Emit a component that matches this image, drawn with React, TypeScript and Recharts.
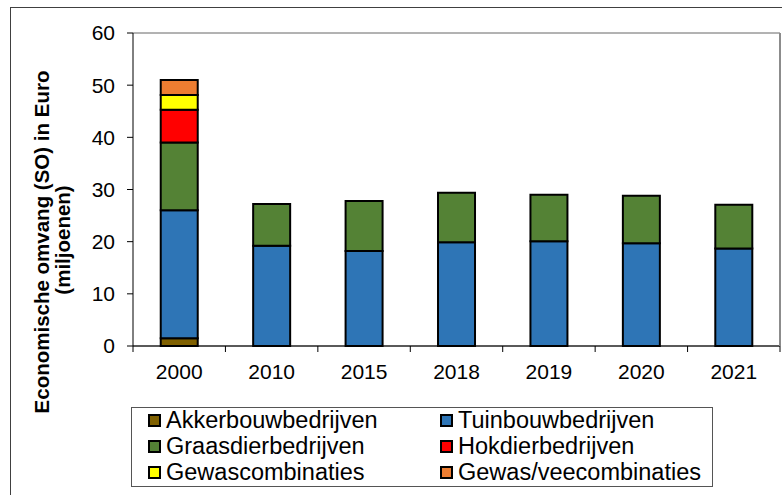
import { BarChart, Bar, XAxis, YAxis, CartesianGrid, Legend } from 'recharts';

const years = ['2000', '2010', '2015', '2018', '2019', '2020', '2021'];
const akkerbouw = [1.5, 0, 0, 0, 0, 0, 0];
const tuinbouw = [24.5, 19.2, 18.2, 19.9, 20.1, 19.7, 18.7];
const graasdier = [13.0, 8.0, 9.6, 9.5, 8.9, 9.1, 8.4];
const hokdier = [6.3, 0, 0, 0, 0, 0, 0];
const gewascombinaties = [2.8, 0, 0, 0, 0, 0, 0];
const gewasVee = [2.9, 0, 0, 0, 0, 0, 0];
const yTicks = [0, 10, 20, 30, 40, 50, 60];

const series = [
  { key: 'akker', name: 'Akkerbouwbedrijven', color: '#7f6000', values: akkerbouw },
  { key: 'tuin', name: 'Tuinbouwbedrijven', color: '#2e75b6', values: tuinbouw },
  { key: 'graas', name: 'Graasdierbedrijven', color: '#548235', values: graasdier },
  { key: 'hok', name: 'Hokdierbedrijven', color: '#ff0000', values: hokdier },
  { key: 'gewas', name: 'Gewascombinaties', color: '#ffff00', values: gewascombinaties },
  { key: 'gewasvee', name: 'Gewas/veecombinaties', color: '#ed7d31', values: gewasVee },
];

const data = years.map((year, i) => {
  const row: Record<string, string | number> = { year };
  series.forEach((s) => {
    row[s.key] = s.values[i];
  });
  return row;
});

const FONT = '"Liberation Sans", Arial, sans-serif';

// excel style: tick marks sit between the categories, label in the middle
function YearTick(props: any) {
  const { x, y, payload, index, width, visibleTicksCount } = props;
  const band = width / visibleTicksCount;
  const top = y - 18;
  return (
    <g>
      <line x1={x - band / 2} x2={x - band / 2} y1={top} y2={top + 6} stroke="#000" />
      {index === visibleTicksCount - 1 && (
        <line x1={x + band / 2} x2={x + band / 2} y1={top} y2={top + 6} stroke="#000" />
      )}
      <text x={x} y={y} dy="0.71em" textAnchor="middle" fill="#000" fontSize={21} fontFamily={FONT}>
        {payload.value}
      </text>
    </g>
  );
}

function AxisTitle() {
  return (
    <g fontFamily={FONT} fontSize={20.5} fontWeight="bold" fill="#000">
      <text x={49} y={242} transform="rotate(-90 49 242)" textAnchor="middle">
        Economische omvang (SO) in Euro
      </text>
      <text x={70} y={240} transform="rotate(-90 70 240)" textAnchor="middle">
        (miljoenen)
      </text>
    </g>
  );
}

function LegendBox() {
  const rowTops = [-1, 25, 51];
  const cols = [16, 308];
  return (
    <div style={{ position: 'relative', width: '100%', height: '100%', fontFamily: FONT, fontSize: 23.5, color: '#000' }}>
      {series.map((s, i) => (
        <div
          key={s.key}
          style={{
            position: 'absolute',
            left: cols[i % 2],
            top: rowTops[Math.floor(i / 2)],
            height: 26,
            lineHeight: '26px',
            display: 'flex',
            alignItems: 'center',
            whiteSpace: 'nowrap',
          }}
        >
          <span
            style={{
              display: 'inline-block',
              width: 9,
              height: 9,
              background: s.color,
              border: '2px solid #000',
              marginRight: 5,
            }}
          />
          {s.name}
        </div>
      ))}
    </div>
  );
}

export default function App() {
  return (
    <div style={{ position: 'absolute', left: 0, top: 0, width: 782, height: 495, overflow: 'hidden', background: '#fff' }}>
      <div style={{ position: 'absolute', left: 10, top: 7, width: 820, height: 520, border: '1px solid #404040' }} />
      <div style={{ position: 'absolute', left: 0, top: 0 }}>
        <BarChart
          width={782}
          height={495}
          data={data}
          margin={{ top: 33, right: 0, left: 0, bottom: 109 }}
          barCategoryGap="30%"
        >
          <CartesianGrid vertical={false} stroke="#666" />
          <XAxis
            dataKey="year"
            height={40}
            axisLine={{ stroke: '#000' }}
            tickLine={false}
            tickSize={6}
            tickMargin={12}
            interval={0}
            tick={<YearTick />}
          />
          <YAxis
            yAxisId="left"
            width={133}
            domain={[0, 60]}
            ticks={yTicks}
            interval={0}
            axisLine={{ stroke: '#000' }}
            tickLine={{ stroke: '#000' }}
            tickSize={6}
            tickMargin={12}
            tick={{ fontSize: 21, fill: '#000', fontFamily: FONT }}
            label={<AxisTitle />}
          />
          <YAxis
            yAxisId="right"
            orientation="right"
            width={2}
            domain={[0, 60]}
            tick={false}
            tickLine={false}
            axisLine={{ stroke: '#8c8c8c', strokeWidth: 2 }}
          />
          <Legend
            layout="vertical"
            align="center"
            verticalAlign="middle"
            wrapperStyle={{
              left: 131,
              top: 407,
              width: 582,
              height: 80,
              border: '1px solid #555',
              boxSizing: 'border-box',
              background: '#fff',
            }}
            content={<LegendBox />}
          />
          {series.map((s) => (
            <Bar
              key={s.key}
              yAxisId="left"
              dataKey={s.key}
              name={s.name}
              stackId="a"
              fill={s.color}
              stroke="#000"
              strokeWidth={2}
              isAnimationActive={false}
            />
          ))}
        </BarChart>
      </div>
    </div>
  );
}
